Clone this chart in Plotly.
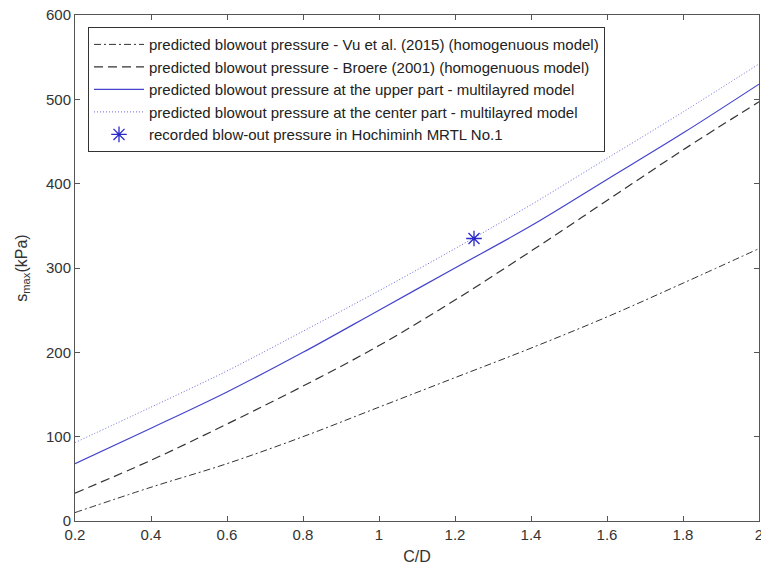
import plotly.graph_objects as go

cd = [0.2, 0.4, 0.6, 0.8, 1.0, 1.2, 1.4, 1.6, 1.8, 2.0]
vu_2015 = [10, 40, 68, 100, 135, 170, 205, 242, 282, 323]
broere_2001 = [33, 72, 115, 160, 208, 262, 320, 380, 440, 497]
upper_part = [68, 110, 153, 200, 250, 300, 350, 405, 460, 518]
center_part = [93, 135, 178, 225, 273, 323, 375, 430, 485, 542]
recorded_cd = [1.25]
recorded_p = [335]

x_ticks = [0.2, 0.4, 0.6, 0.8, 1.0, 1.2, 1.4, 1.6, 1.8, 2.0]
x_ticktext = ["0.2", "0.4", "0.6", "0.8", "1", "1.2", "1.4", "1.6", "1.8", "2"]
y_ticks = [0, 100, 200, 300, 400, 500, 600]

names = [
    "predicted blowout pressure - Vu et al. (2015) (homogenuous model)",
    "predicted blowout pressure - Broere (2001) (homogenuous model)",
    "predicted blowout pressure at the upper part - multilayred model",
    "predicted blowout pressure at the center part - multilayred model",
    "recorded blow-out pressure in Hochiminh MRTL No.1",
]

fig = go.Figure()
fig.add_trace(go.Scatter(x=cd, y=vu_2015, mode="lines", name=names[0],
                         line=dict(color="#333333", width=1, dash="7px,3px,2px,3px", shape="spline")))
fig.add_trace(go.Scatter(x=cd, y=broere_2001, mode="lines", name=names[1],
                         line=dict(color="#333333", width=1.2, dash="9px,5px", shape="spline")))
fig.add_trace(go.Scatter(x=cd, y=upper_part, mode="lines", name=names[2],
                         line=dict(color="#4444cc", width=1.2, shape="spline")))
fig.add_trace(go.Scatter(x=cd, y=center_part, mode="lines", name=names[3],
                         line=dict(color="#6666dd", width=1, dash="1px,2px", shape="spline")))
fig.add_trace(go.Scatter(x=recorded_cd, y=recorded_p, mode="markers", name=names[4],
                         marker=dict(symbol="asterisk-open", size=13, color="#2a2acc",
                                     line=dict(color="#2a2acc", width=1.3))))

axis_common = dict(showgrid=False, zeroline=False, showline=True, linecolor="#555555",
                   linewidth=1, mirror="ticks", ticks="inside", ticklen=5,
                   tickcolor="#555555", tickfont=dict(size=15, color="#333333"),
                   automargin=False, ticklabeloverflow="allow")

fig.update_layout(
    width=761, height=573,
    margin=dict(l=75, r=2, t=15, b=52),
    paper_bgcolor="white", plot_bgcolor="white",
    font=dict(family="Liberation Sans, Arial, sans-serif", color="#333333"),
    xaxis=dict(range=[0.2, 2.0], tickvals=x_ticks, ticktext=x_ticktext,
               title=dict(text="C/D", font=dict(size=16), standoff=8), **axis_common),
    yaxis=dict(range=[0, 600], tickvals=y_ticks,
               title=dict(text="s<sub>max</sub>(kPa)", font=dict(size=16), standoff=14), **axis_common),
    legend=dict(x=0.019, y=0.976, xanchor="left", yanchor="top",
                bgcolor="white", bordercolor="#333333", borderwidth=1,
                font=dict(size=15, color="#222222"), itemwidth=50,
                tracegroupgap=0),
    showlegend=True,
)

fig.write_html("out.html", config={"displayModeBar": False},
               post_script="document.body.style.margin='0';document.body.style.overflow='hidden';")
